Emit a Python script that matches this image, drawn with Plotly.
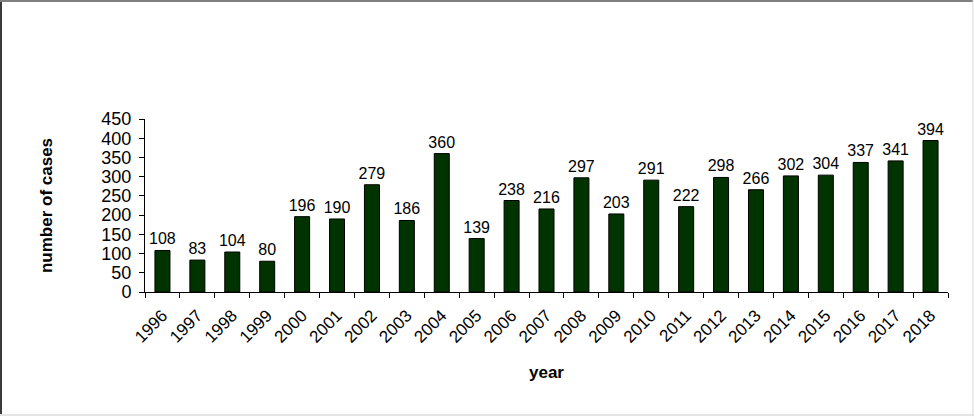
import plotly.graph_objects as go

years = [str(y) for y in range(1996, 2019)]
cases = [108, 83, 104, 80, 196, 190, 279, 186, 360, 139, 238, 216, 297, 203,
         291, 222, 298, 266, 302, 304, 337, 341, 394]
y_ticks = [0, 50, 100, 150, 200, 250, 300, 350, 400, 450]

W, H = 974, 416
ML, MR, MT, MB = 145, 26, 119, 124
PW = W - ML - MR
PH = H - MT - MB

FONT = "Liberation Sans, Arial, sans-serif"

fig = go.Figure(go.Bar(
    x=years, y=cases,
    marker=dict(color="#003300", line=dict(color="#000000", width=1)),
    text=[str(v) for v in cases], textposition="outside",
    constraintext="none",
    textfont=dict(family=FONT, size=16, color="#000000"),
    cliponaxis=False,
))

def px_x(p):
    return (p - ML) / PW

def px_y(p):
    return (H - MB - p) / PH

shapes = [
    dict(type="line", xref="paper", yref="paper", x0=px_x(1), x1=px_x(1), y0=px_y(0), y1=px_y(H),
         line=dict(color="#3a3a3a", width=2)),
    dict(type="line", xref="paper", yref="paper", x0=px_x(0), x1=px_x(973), y0=px_y(1), y1=px_y(1),
         line=dict(color="#808080", width=2)),
    dict(type="line", xref="paper", yref="paper", x0=px_x(0), x1=px_x(974), y0=px_y(415), y1=px_y(415),
         line=dict(color="#e4e4e4", width=2)),
    dict(type="line", xref="paper", yref="paper", x0=px_x(973), x1=px_x(973), y0=px_y(0), y1=px_y(H),
         line=dict(color="#d8d8d8", width=1)),
]

fig.update_layout(
    width=W, height=H,
    margin=dict(l=ML, r=MR, t=MT, b=MB, autoexpand=False),
    paper_bgcolor="white", plot_bgcolor="white",
    bargap=0.57,
    showlegend=False,
    font=dict(family=FONT, size=16, color="#000000"),
    shapes=shapes,
    xaxis=dict(
        type="category", range=[-0.5, 22.5],
        showline=True, linecolor="#000000", linewidth=1,
        ticks="outside", tickson="boundaries", ticklen=5, tickcolor="#000000",
        tickangle=-45, tickfont=dict(family=FONT, size=17),
        ticklabelstandoff=6,
        showgrid=False, zeroline=False,
        title=dict(text="<b>year</b>", font=dict(family=FONT, size=17), standoff=20),
    ),
    yaxis=dict(
        range=[0, 450], tickvals=y_ticks,
        showline=True, linecolor="#000000", linewidth=1,
        ticks="outside", ticklen=5, tickcolor="#000000",
        tickfont=dict(family=FONT, size=18),
        ticklabelstandoff=4,
        showgrid=False, zeroline=False,
        title=dict(text="<b>number of cases</b>", font=dict(family=FONT, size=17), standoff=44),
    ),
)

fig.write_html("out.html")
